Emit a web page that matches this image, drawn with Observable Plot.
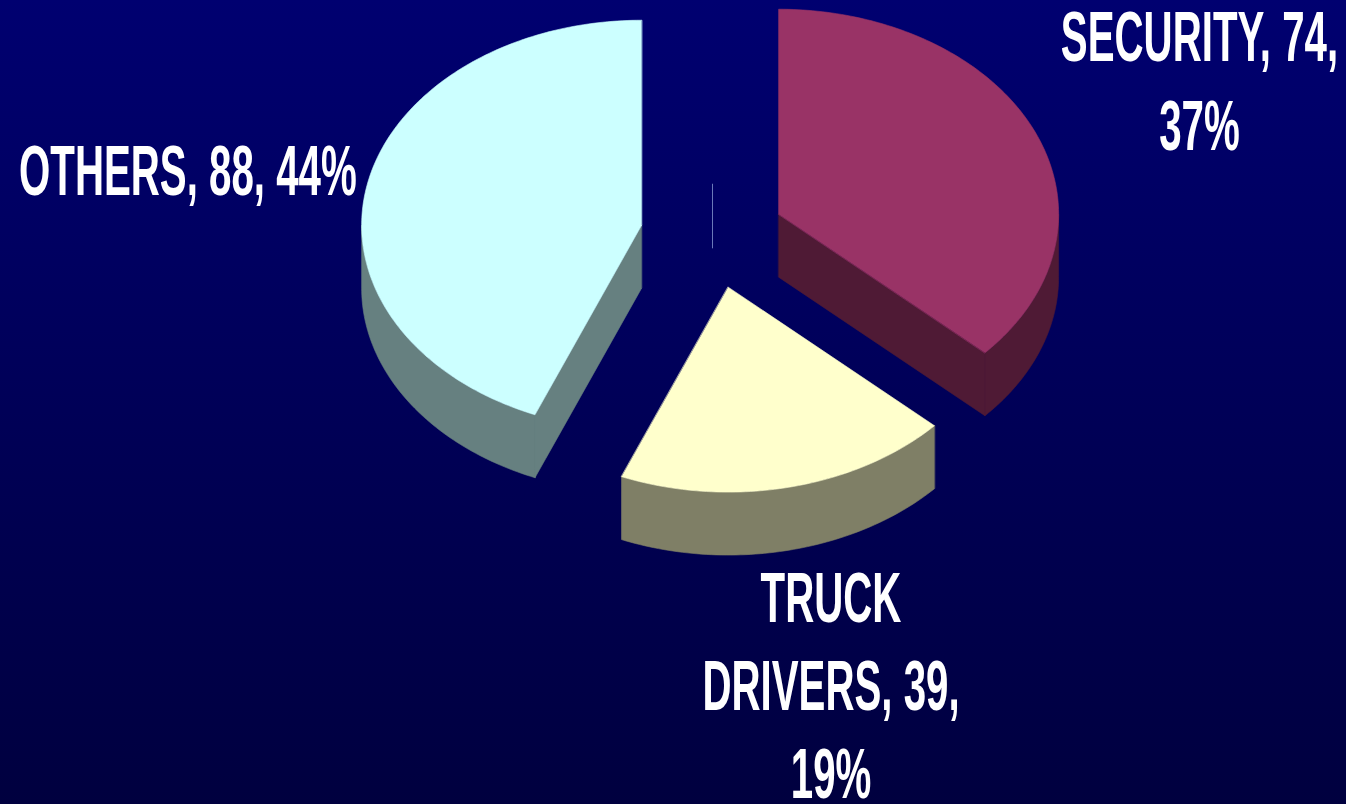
<!DOCTYPE html>
<html><head><meta charset="utf-8">
<script src="https://cdn.jsdelivr.net/npm/d3@7"></script>
<script src="https://cdn.jsdelivr.net/npm/@observablehq/plot@0.6"></script>
<style>
html,body{margin:0;padding:0;background:#000058;overflow:hidden}
#chart svg{display:block}
</style></head><body><div id="chart"></div>
<script>
// ---- data ----
const categories = ["SECURITY", "TRUCK DRIVERS", "OTHERS"];
const values = [74, 39, 88];
const topColors = ["#993366", "#FFFFCC", "#CCFFFF"];
const sideColors = ["#4F1A35", "#7F7F66", "#668080"];

// ---- layout (not data) ----
const layout = {width: 1346, height: 804, cx: 712, cy: 235, rx: 280, ry: 205,
  depth: 0.307, explode: 0.258, fontSize: 70, lineHeight: 1.263, textScaleX: 0.575};
const labelRadius = [[1.90, 1.92], [1.95, 2.23], [1.91, 1.72]];
const labelWrap = [13, 12, 20];

const total = d3.sum(values);
const pie = d3.pie().sort(null).value(d => d)(values);

function wrap(str, max) {
  const words = str.split(" ");
  const lines = [];
  let cur = "";
  for (const w of words) {
    const t = cur ? cur + " " + w : w;
    if (t.length > max && cur) { lines.push(cur); cur = w; } else cur = t;
  }
  if (cur) lines.push(cur);
  return lines.join("\n");
}

const polys = [];
const D = layout.depth;
pie.forEach((p, i) => {
  const a0 = p.startAngle, a1 = p.endAngle, mid = (a0 + a1) / 2;
  const ox = layout.explode * Math.sin(mid), oy = layout.explode * Math.cos(mid);
  const pt = (a, dz) => ({x: ox + Math.sin(a), y: oy + Math.cos(a) - dz});
  const apex = dz => ({x: ox, y: oy - dz});
  const arc = (b0, b1, dz) => {
    const n = Math.max(2, Math.ceil((b1 - b0) / (Math.PI / 180)));
    return d3.range(n + 1).map(k => pt(b0 + (b1 - b0) * k / n, dz));
  };
  const w0 = Math.max(a0, Math.PI / 2), w1 = Math.min(a1, 3 * Math.PI / 2);
  if (w1 > w0) polys.push({color: sideColors[i], points: [...arc(w0, w1, 0), ...arc(w0, w1, D).reverse()]});
  if (Math.sin(a0) < -1e-6) polys.push({color: sideColors[i], points: [apex(0), pt(a0, 0), pt(a0, D), apex(D)]});
  if (Math.sin(a1) > 1e-6) polys.push({color: sideColors[i], points: [apex(0), pt(a1, 0), pt(a1, D), apex(D)]});
  polys.push({color: topColors[i], points: [apex(0), ...arc(a0, a1, 0)]});
});

const labels = pie.map((p, i) => {
  const mid = (p.startAngle + p.endAngle) / 2;
  const pct = Math.round(values[i] / total * 100);
  return {
    x: labelRadius[i][0] * Math.sin(mid),
    y: labelRadius[i][1] * Math.cos(mid),
    text: wrap(`${categories[i]}, ${values[i]}, ${pct}%`, labelWrap[i])
  };
});

const {width: W, height: H, cx, cy, rx, ry} = layout;
const plot = Plot.plot({
  width: W, height: H,
  marginTop: 0, marginRight: 0, marginBottom: 0, marginLeft: 0,
  x: {domain: [-cx / rx, (W - cx) / rx], range: [0, W], axis: null},
  y: {domain: [(cy - H) / ry, cy / ry], range: [H, 0], axis: null},
  style: {background: "linear-gradient(to bottom, #000070, #00003f)"},
  marks: [
    Plot.ruleX([0], {y1: 0.25, y2: -0.065, stroke: "#6a78b8", strokeWidth: 1}),
    ...polys.map(p => Plot.line(p.points, {x: "x", y: "y", curve: "linear-closed",
      fill: p.color, stroke: p.color, strokeWidth: 0.6})),
    Plot.text(labels, {x: "x", y: "y", text: "text", fill: "white",
      fontSize: layout.fontSize, fontWeight: "bold",
      fontFamily: "Liberation Sans, Arial, sans-serif",
      lineHeight: layout.lineHeight, textAnchor: "middle"})
  ]
});

plot.querySelectorAll('g[aria-label="text"] text').forEach(el => {
  let t = el.getAttribute("transform") || "";
  if (el.hasAttribute("x") && !t) {
    t = `translate(${el.getAttribute("x")},${el.getAttribute("y") || 0})`;
    el.removeAttribute("x"); el.removeAttribute("y");
  }
  el.setAttribute("transform", `${t} scale(${layout.textScaleX},1)`);
});

document.getElementById("chart").appendChild(plot);
</script>
</body></html>
